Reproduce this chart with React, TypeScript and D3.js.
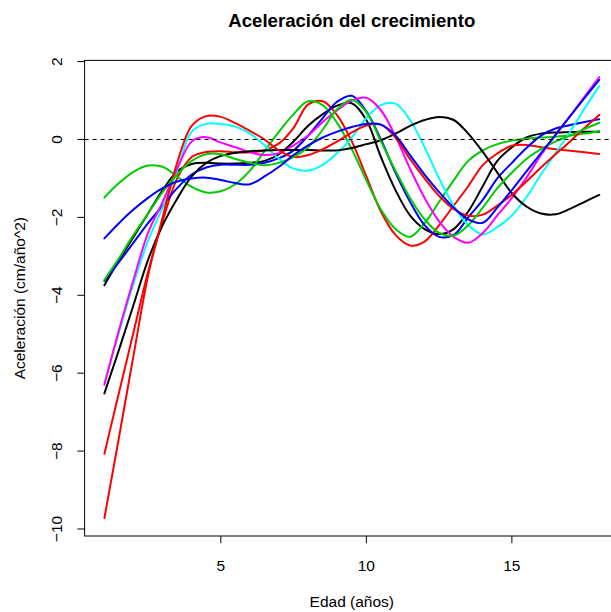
import React from "react";
import * as d3 from "d3";

const ages = [1, 1.5, 2, 2.5, 3, 3.5, 4, 4.5, 5, 5.5, 6, 6.5, 7, 7.5, 8, 8.5, 9, 9.5, 10, 10.5, 11, 11.5, 12, 12.5, 13, 13.5, 14, 14.5, 15, 15.5, 16, 16.5, 17, 17.5, 18];

const blackA = [-3.74, -3.1, -2.5, -1.9, -1.3, -0.82, -0.63, -0.6, -0.62, -0.62, -0.6, -0.55, -0.38, -0.05, 0.35, 0.65, 0.87, 0.93, 0.5, -0.45, -1.3, -1.95, -2.3, -2.43, -2.3, -1.85, -1.2, -0.55, -0.2, 0.05, 0.15, 0.18, 0.19, 0.2, 0.2];
const redA = [-8.07, -6.5, -4.95, -3.4, -2.1, -1.0, -0.45, -0.32, -0.3, -0.33, -0.33, -0.28, -0.1, 0.3, 0.9, 0.98, 0.62, -0.05, -0.95, -1.85, -2.45, -2.72, -2.62, -2.2, -1.7, -1.2, -0.66, -0.36, -0.16, -0.14, -0.2, -0.25, -0.29, -0.33, -0.37];
const greenA = [-1.49, -1.12, -0.83, -0.67, -0.7, -0.95, -1.22, -1.36, -1.33, -1.15, -0.8, -0.3, 0.2, 0.65, 0.98, 0.88, 0.42, -0.25, -1.05, -1.8, -2.3, -2.5, -2.15, -1.6, -1.05, -0.55, -0.28, -0.12, -0.03, 0.02, 0.05, 0.07, 0.1, 0.15, 0.22];
const blueA = [-3.63, -3.15, -2.65, -2.15, -1.7, -1.25, -0.9, -0.72, -0.65, -0.65, -0.65, -0.6, -0.48, -0.28, 0.1, 0.55, 0.97, 1.12, 0.72, 0.0, -0.85, -1.6, -2.2, -2.5, -2.45, -2.0, -1.55, -1.0, -0.6, -0.22, 0.1, 0.28, 0.37, 0.45, 0.52];
const cyanA = [-6.25, -4.95, -3.7, -2.6, -1.75, -0.8, 0.2, 0.4, 0.4, 0.33, 0.15, -0.15, -0.5, -0.75, -0.8, -0.65, -0.35, 0.05, 0.55, 0.88, 0.92, 0.5, -0.2, -1.0, -1.7, -2.2, -2.44, -2.25, -1.95, -1.48, -0.9, -0.35, 0.2, 0.8, 1.37];
const magentaA = [-6.3, -4.9, -3.6, -2.4, -1.6, -0.75, -0.05, 0.06, -0.08, -0.2, -0.33, -0.4, -0.35, -0.15, 0.1, 0.45, 0.75, 1.0, 1.07, 0.75, 0.08, -0.75, -1.5, -2.1, -2.5, -2.65, -2.4, -1.95, -1.5, -0.98, -0.4, 0.12, 0.6, 1.1, 1.6];
const blackB = [-6.52, -5.4, -4.25, -3.09, -2.2, -1.52, -0.95, -0.6, -0.42, -0.34, -0.3, -0.28, -0.27, -0.27, -0.27, -0.28, -0.28, -0.22, -0.12, -0.02, 0.15, 0.35, 0.5, 0.58, 0.5, 0.15, -0.32, -0.85, -1.38, -1.72, -1.9, -1.92, -1.78, -1.6, -1.42];
const redB = [-9.72, -7.65, -5.55, -3.5, -2.0, -0.6, 0.35, 0.6, 0.58, 0.42, 0.22, 0.0, -0.28, -0.45, -0.4, -0.25, -0.05, 0.18, 0.36, 0.38, 0.05, -0.5, -1.0, -1.45, -1.78, -1.96, -1.93, -1.7, -1.42, -1.08, -0.72, -0.38, -0.05, 0.3, 0.63];
const greenB = [-3.6, -3.05, -2.45, -1.9, -1.35, -0.9, -0.55, -0.38, -0.38, -0.5, -0.6, -0.66, -0.6, -0.45, -0.2, 0.25, 0.78, 1.02, 0.7, -0.05, -0.8, -1.5, -2.05, -2.4, -2.47, -2.2, -1.75, -1.25, -0.85, -0.5, -0.25, -0.05, 0.1, 0.27, 0.43];
const blueB = [-2.54, -2.15, -1.8, -1.5, -1.25, -1.08, -1.0, -0.98, -1.04, -1.12, -1.15, -0.95, -0.7, -0.4, -0.15, 0.05, 0.2, 0.32, 0.4, 0.38, 0.1, -0.4, -0.9, -1.35, -1.75, -2.05, -2.14, -1.75, -1.3, -0.82, -0.35, 0.12, 0.6, 1.07, 1.53];

const seriesList = [blackA, redA, greenA, blueA, cyanA, magentaA, blackB, redB, greenB, blueB];
const palette = ["#000000", "#FF0000", "#00CD00", "#0000FF", "#00FFFF", "#FF00FF"];

const xTicks = [5, 10, 15];
const yTicks = [2, 0, -2, -4, -6, -8, -10];

const titleText = "Aceleración del crecimiento";
const xLabel = "Edad (años)";
const yLabel = "Aceleración (cm/año^2)";

export default function App() {
  const W = 611;
  const H = 612;
  const left = 84.6, right = 619, top = 60.4, bottom = 536;
  const x = d3.scaleLinear().domain([0.32, 18.68]).range([left, right]);
  const y = d3.scaleLinear().domain([-10.18, 2.03]).range([bottom, top]);
  const line = d3
    .line<number>()
    .x((_, i) => x(ages[i]))
    .y((d) => y(d))
    .curve(d3.curveCatmullRom.alpha(0.5));
  const font = "'Liberation Sans', Arial, Helvetica, sans-serif";
  const fs = 15.5;

  return (
    <svg
      width={W}
      height={H}
      style={{ position: "absolute", left: 0, top: 0, background: "#fff" }}
      fontFamily={font}
    >
      <rect x={0} y={0} width={W} height={H} fill="#fff" />
      <defs>
        <clipPath id="plotclip">
          <rect x={left} y={top} width={right - left} height={bottom - top} />
        </clipPath>
      </defs>
      <g clipPath="url(#plotclip)">
        {seriesList.map((s, i) => (
          <path
            key={i}
            d={line(s) || ""}
            fill="none"
            stroke={palette[i % palette.length]}
            strokeWidth={2}
            strokeLinejoin="round"
            strokeLinecap="round"
          />
        ))}
        <line
          x1={left}
          x2={right}
          y1={y(0)}
          y2={y(0)}
          stroke="#000"
          strokeWidth={1}
          strokeDasharray="4,4"
        />
      </g>
      <rect x={left} y={top} width={right - left} height={bottom - top} fill="none" stroke="#000" strokeWidth={1} />
      {xTicks.map((t) => (
        <g key={t}>
          <line x1={x(t)} x2={x(t)} y1={bottom} y2={bottom + 7.2} stroke="#000" />
          <text x={x(t)} y={571} textAnchor="middle" fontSize={fs}>
            {t}
          </text>
        </g>
      ))}
      {yTicks.map((t) => (
        <g key={t}>
          <line x1={left - 7.2} x2={left} y1={y(t)} y2={y(t)} stroke="#000" />
          <text
            transform={`translate(62,${y(t)}) rotate(-90)`}
            textAnchor="middle"
            fontSize={fs}
          >
            {t < 0 ? "\u2212" + Math.abs(t) : String(t)}
          </text>
        </g>
      ))}
      <text x={(left + right) / 2} y={27} textAnchor="middle" fontSize={18.6} fontWeight="bold">
        {titleText}
      </text>
      <text x={(left + right) / 2} y={607} textAnchor="middle" fontSize={fs}>
        {xLabel}
      </text>
      <text
        transform={`translate(25,${(top + bottom) / 2}) rotate(-90)`}
        textAnchor="middle"
        fontSize={fs}
      >
        {yLabel}
      </text>
    </svg>
  );
}
